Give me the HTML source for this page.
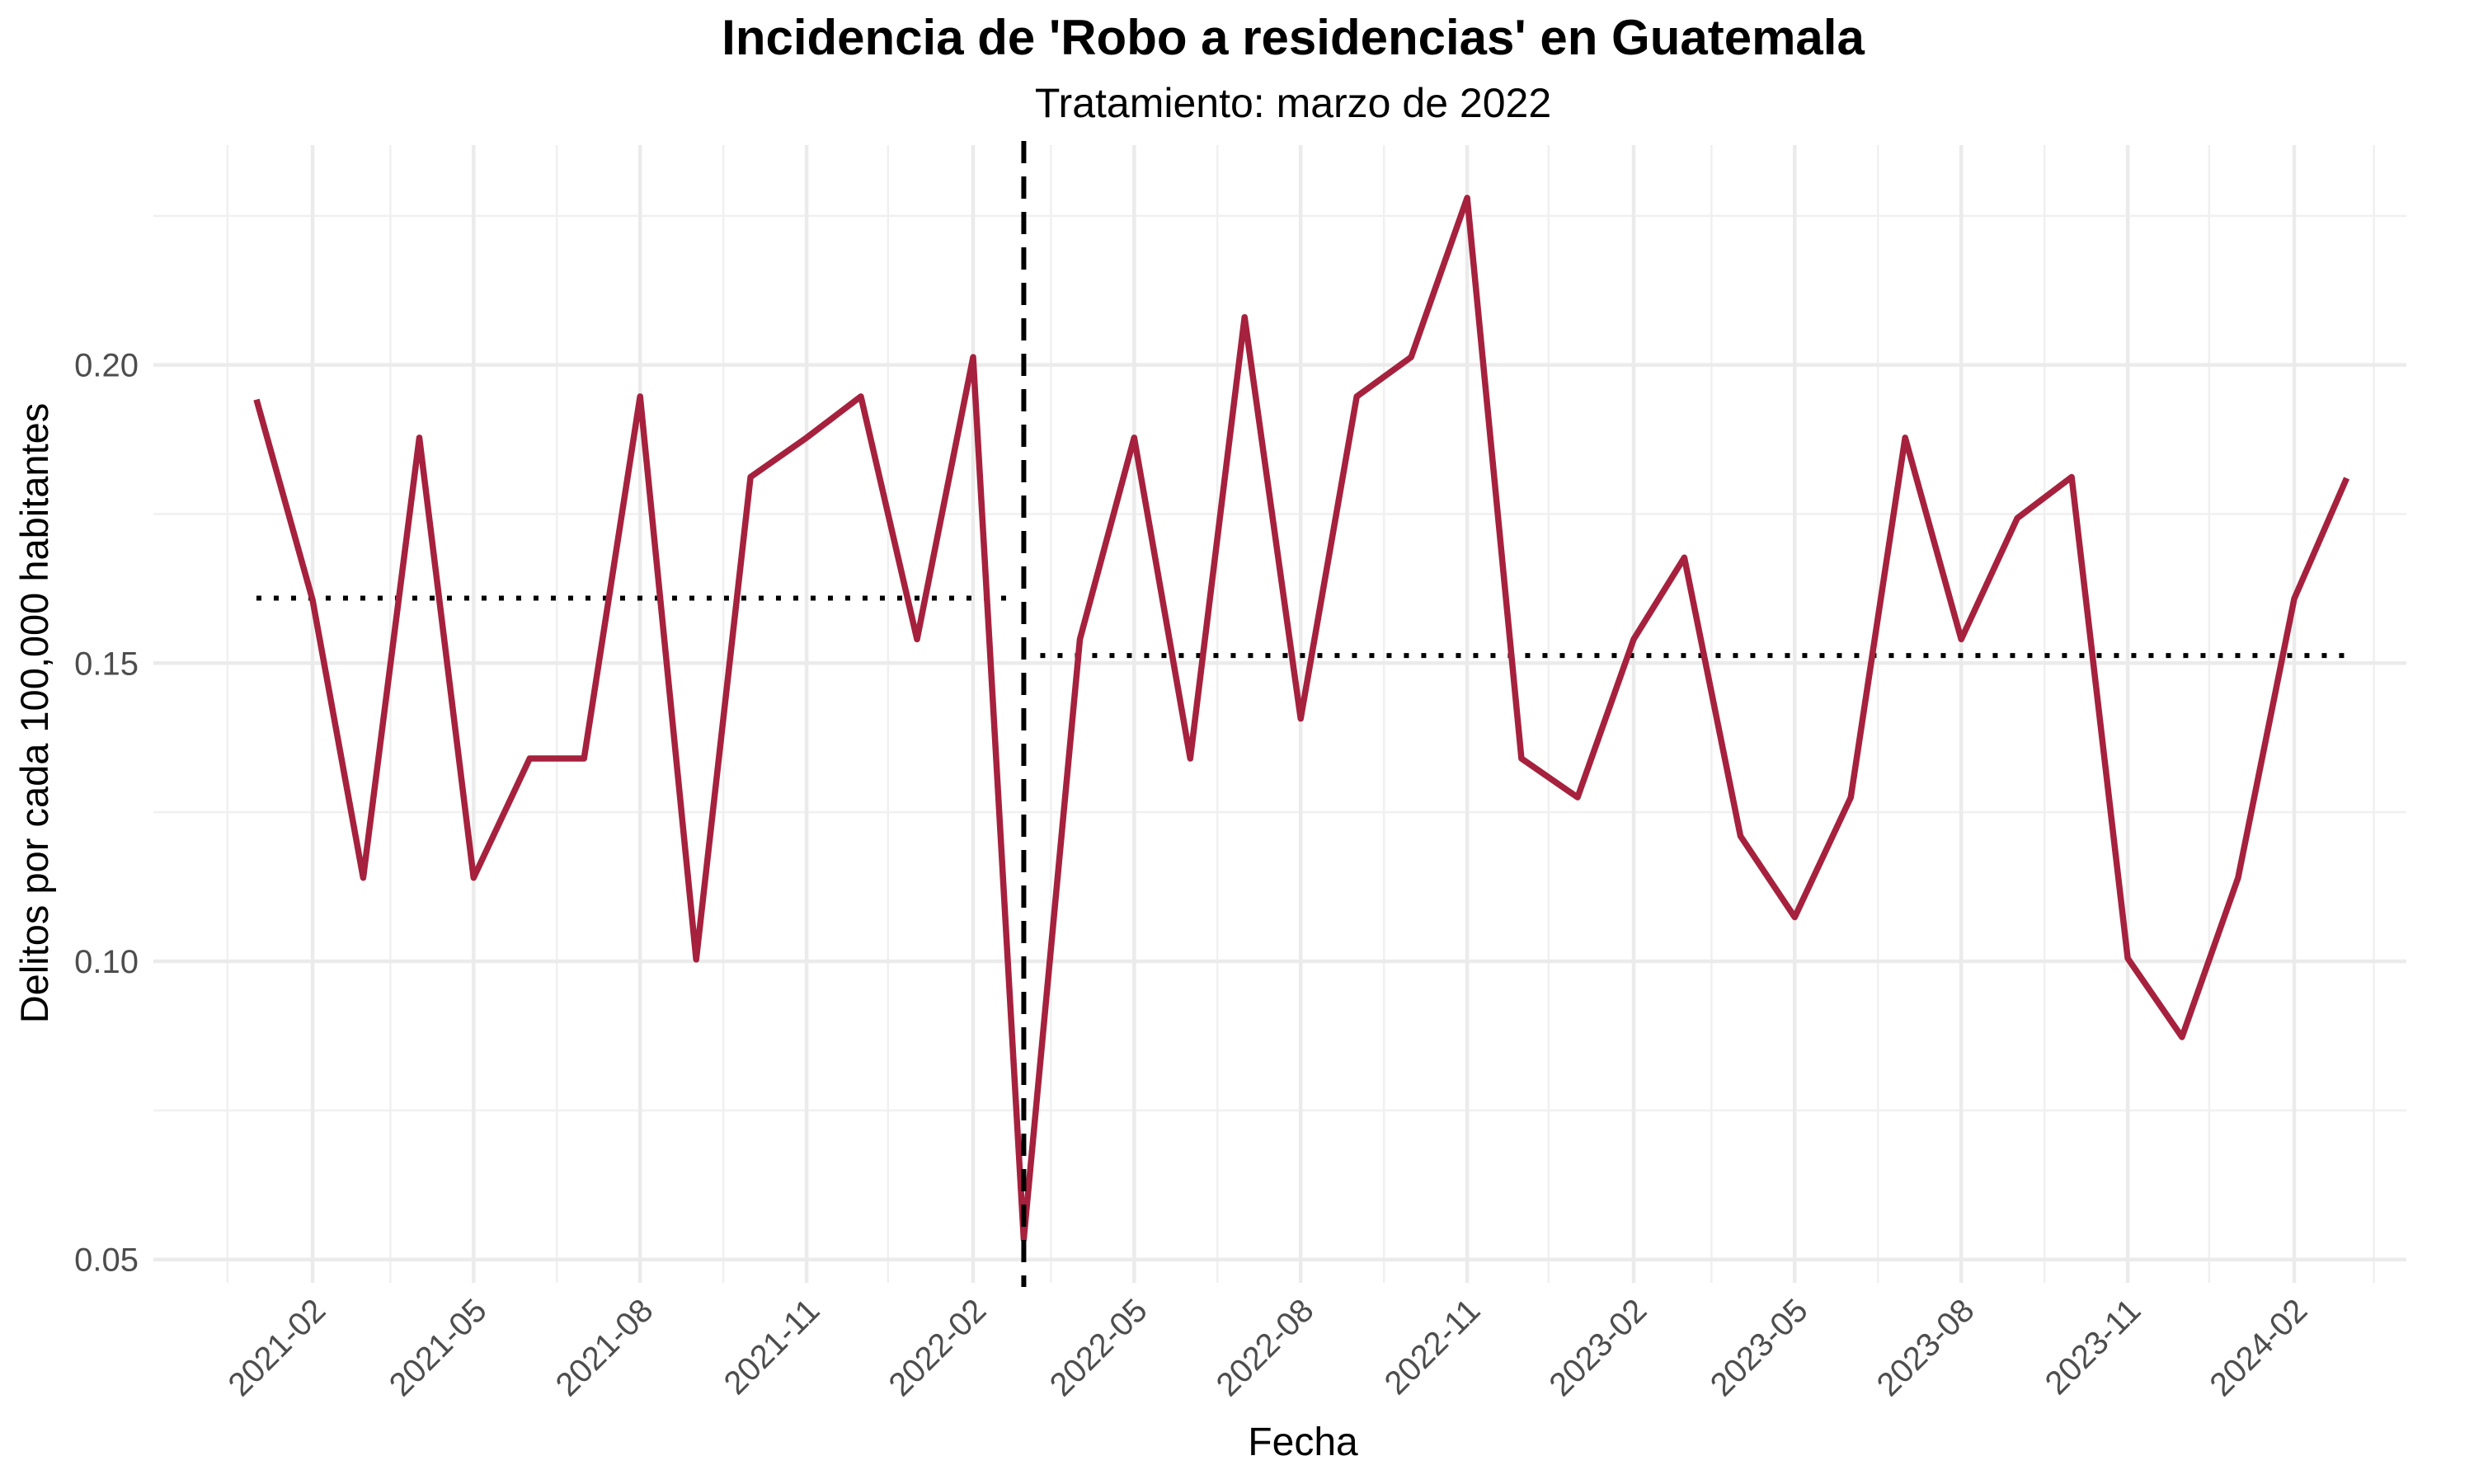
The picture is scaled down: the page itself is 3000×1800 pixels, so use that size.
<!DOCTYPE html>
<html><head><meta charset="utf-8"><style>
html,body{margin:0;padding:0;background:#fff;}
svg{display:block;font-family:"Liberation Sans",Arial,sans-serif;}
</style></head><body>
<svg id="chart" width="3000" height="1800" viewBox="0 0 3000 1800" xmlns="http://www.w3.org/2000/svg">
<rect width="3000" height="1800" fill="#fff"/>
<text x="1568" y="66" text-anchor="middle" font-size="60" font-weight="bold" fill="#000">Incidencia de 'Robo a residencias' en Guatemala</text>
<text x="1568" y="142" text-anchor="middle" font-size="50" fill="#000">Tratamiento: marzo de 2022</text>
<g id="grid"></g>
<g id="marks"></g>
<g id="axes"></g>
<text x="1580" y="1765" text-anchor="middle" font-size="48" fill="#000">Fecha</text>
<text transform="translate(58,865) rotate(-90)" text-anchor="middle" font-size="47" fill="#000">Delitos por cada 100,000 habitantes</text>
</svg>
<script>
const months = ["2021-01","2021-02","2021-03","2021-04","2021-05","2021-06","2021-07","2021-08","2021-09","2021-10","2021-11","2021-12","2022-01","2022-02","2022-03","2022-04","2022-05","2022-06","2022-07","2022-08","2022-09","2022-10","2022-11","2022-12","2023-01","2023-02","2023-03","2023-04","2023-05","2023-06","2023-07","2023-08","2023-09","2023-10","2023-11","2023-12","2024-01","2024-02","2024-03"];
const values = [0.1942,0.1606,0.114,0.1878,0.114,0.134,0.134,0.1947,0.1003,0.1812,0.1878,0.1947,0.154,0.2013,0.0534,0.154,0.1878,0.134,0.208,0.1407,0.1947,0.2013,0.228,0.134,0.1275,0.154,0.1677,0.121,0.1074,0.1275,0.1878,0.154,0.1743,0.1812,0.1005,0.0873,0.114,0.1608,0.181];
const treatment = "2022-03";
const yTicks = [0.05,0.10,0.15,0.20];
const yMinor = [0.075,0.125,0.175,0.225];
const xTicks = ["2021-02","2021-05","2021-08","2021-11","2022-02","2022-05","2022-08","2022-11","2023-02","2023-05","2023-08","2023-11","2024-02"];
const xMinor = ["2020-12-16","2021-03-16","2021-06-16","2021-09-16","2021-12-16","2022-03-16","2022-06-16","2022-09-16","2022-12-16","2023-03-16","2023-06-16","2023-09-16","2023-12-16","2024-03-16"];

const NS="http://www.w3.org/2000/svg";
const day0 = Date.UTC(2021,1,1);
function toDate(s){const p=s.split("-").map(Number);return Date.UTC(p[0],p[1]-1,p[2]||1);}
function X(s){return 379 + (toDate(s)-day0)/86400000*2.1945;}
function Y(v){return 1527.7 - (v-0.05)/0.05*361.7;}
function mk(tag,attrs,parent){const e=document.createElementNS(NS,tag);for(const k in attrs)e.setAttribute(k,attrs[k]);parent.appendChild(e);return e;}
const grid=document.getElementById('grid'), marks=document.getElementById('marks'), axes=document.getElementById('axes');
const L=186,R=2918,T=176,B=1556;
yMinor.forEach(v=>{const e=mk('line',{x1:L,x2:R,y1:Y(v),y2:Y(v),stroke:'#f0f0f0','stroke-width':2.5},grid);

});
xMinor.forEach(d=>{const e=mk('line',{x1:X(d),x2:X(d),y1:T,y2:B,stroke:'#f0f0f0','stroke-width':2.5},grid);

});
yTicks.forEach(v=>{const e=mk('line',{x1:L,x2:R,y1:Y(v),y2:Y(v),stroke:'#ebebeb','stroke-width':4.5},grid);


const t=mk('text',{x:168,y:Y(v)+14,'text-anchor':'end','font-size':40,fill:'#4d4d4d'},axes);t.textContent=v.toFixed(2);

});
xTicks.forEach(d=>{const x=X(d);const e=mk('line',{x1:x,x2:x,y1:T,y2:B,stroke:'#ebebeb','stroke-width':4.5},grid);


const t=mk('text',{transform:`translate(${x+18},1592) rotate(-45)`,'text-anchor':'end','font-size':40,fill:'#4d4d4d'},axes);t.textContent=d;

});
const ti=months.indexOf(treatment);
const pre=values.slice(0,ti), post=values.slice(ti);
const mean=a=>a.reduce((s,v)=>s+v,0)/a.length;
const m1=mean(pre), m2=mean(post);
const d1=mk('line',{x1:X(months[0]),x2:X(months[ti-1])+50,y1:Y(m1),y2:Y(m1),stroke:'#000','stroke-width':6,'stroke-dasharray':'6 15'},marks);


const d2=mk('line',{x1:X(treatment)+20,x2:X(months[months.length-1]),y1:Y(m2),y2:Y(m2),stroke:'#000','stroke-width':6,'stroke-dasharray':'6 15'},marks);


const pts=months.map((m,i)=>X(m).toFixed(1)+','+Y(values[i]).toFixed(1)).join(' ');
const pl=mk('polyline',{points:pts,fill:'none',stroke:'#a6213d','stroke-width':7.5,'stroke-linejoin':'round'},marks);


const vl=mk('line',{x1:X(treatment),x2:X(treatment),y1:T-5,y2:B+5,stroke:'#000','stroke-width':6,'stroke-dasharray':'27 16'},marks);


</script>
</body></html>
